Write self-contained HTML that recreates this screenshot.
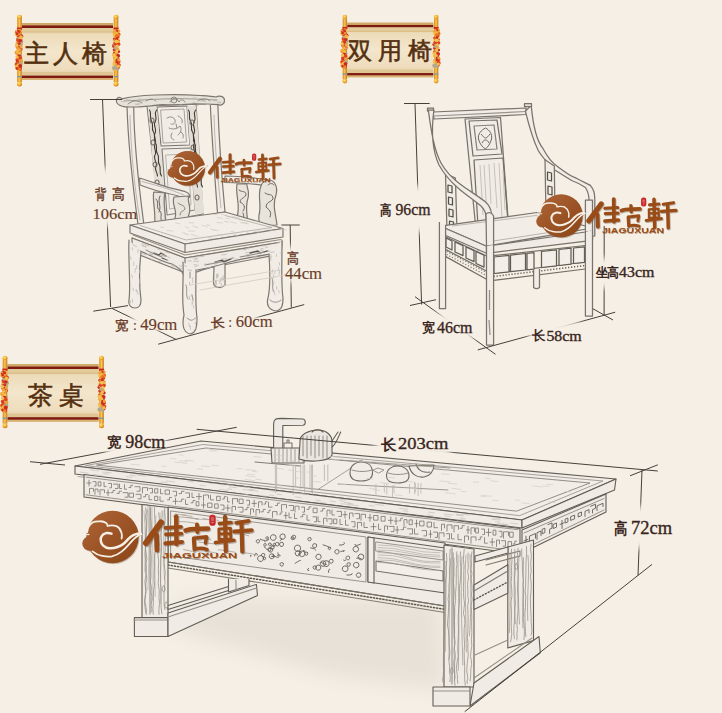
<!DOCTYPE html>
<html><head><meta charset="utf-8">
<style>
html,body{margin:0;padding:0;width:722px;height:713px;overflow:hidden;background:#f5efe6;}
svg{position:absolute;left:0;top:0;}
.lab{font-family:"Liberation Serif",serif;fill:#6a3c28;}
.lab2{font-family:"Liberation Serif",serif;fill:#3a2620;}
.ban{font-family:"Liberation Serif",serif;font-weight:normal;fill:#55300f;stroke:#55300f;stroke-width:0.6;}
.lg{font-family:"Liberation Sans",sans-serif;font-weight:bold;fill:#9c5226;}
</style></head>
<body>
<svg width="722" height="713" viewBox="0 0 722 713">
<defs>
  <linearGradient id="scroll" x1="0" y1="0" x2="0" y2="1">
    <stop offset="0" stop-color="#dcc08c"/>
    <stop offset="0.2" stop-color="#eddcba"/>
    <stop offset="0.5" stop-color="#f3e6cc"/>
    <stop offset="0.82" stop-color="#eedcbc"/>
    <stop offset="1" stop-color="#d8b880"/>
  </linearGradient>
  <linearGradient id="rod" x1="0" y1="0" x2="1" y2="0">
    <stop offset="0" stop-color="#d98a1c"/>
    <stop offset="0.5" stop-color="#f8c850"/>
    <stop offset="1" stop-color="#c8701a"/>
  </linearGradient>
  <radialGradient id="knob" cx="0.4" cy="0.35" r="0.7">
    <stop offset="0" stop-color="#ffe680"/>
    <stop offset="0.6" stop-color="#f0a820"/>
    <stop offset="1" stop-color="#c87010"/>
  </radialGradient>
  <g id="banner">
    <rect x="5" y="8" width="91" height="57" fill="url(#scroll)"/>
    <rect x="5" y="8" width="91" height="2.6" fill="#cfa868"/>
    <rect x="5" y="10.4" width="91" height="2.6" fill="#7e1a12"/>
    <rect x="5" y="13" width="91" height="4" fill="#e3cc9c"/>
    <rect x="5" y="16.6" width="91" height="0.9" fill="#d6ad6e" opacity="0.8"/>
    <rect x="5" y="57" width="91" height="3.6" fill="#dfc494"/>
    <rect x="5" y="60.6" width="91" height="2.6" fill="#7e1a12"/>
    <rect x="5" y="63.2" width="91" height="1.8" fill="#d9b070"/>
    <circle cx="2.5" cy="2.2" r="2.5" fill="url(#knob)"/>
    <rect x="0.20000000000000018" y="4" width="4.6" height="63" fill="url(#rod)"/>
    <rect x="-0.10000000000000009" y="12.5" width="5.2" height="2" fill="#c8281c"/>
    <rect x="0.20000000000000018" y="61" width="4.6" height="1.3" fill="#7a9aa0"/>
    <circle cx="2.5" cy="69" r="2.5" fill="url(#knob)"/>
    <circle cx="1.7" cy="24.5" r="1.4" fill="#b0a890"/>
    <circle cx="4.2" cy="40.0" r="1.0" fill="#b0a890"/>
    <circle cx="3.3" cy="25.4" r="2.1" fill="#b0a890"/>
    <circle cx="1.6" cy="36.6" r="1.4" fill="#e87a20"/>
    <circle cx="3.7" cy="24.3" r="2.0" fill="#e8a848"/>
    <circle cx="1.0" cy="44.7" r="1.1" fill="#f0a030"/>
    <circle cx="4.3" cy="27.1" r="2.0" fill="#b0a890"/>
    <circle cx="-0.3" cy="38.8" r="1.4" fill="#e8a848"/>
    <circle cx="0.3" cy="30.8" r="1.5" fill="#e87a20"/>
    <circle cx="4.0" cy="50.2" r="1.1" fill="#d83020"/>
    <circle cx="1.0" cy="25.3" r="1.9" fill="#f2c050"/>
    <circle cx="0.2" cy="31.8" r="1.6" fill="#e04020"/>
    <circle cx="1.5" cy="38.4" r="2.0" fill="#f0a030"/>
    <circle cx="-0.7" cy="49.3" r="1.7" fill="#e87a20"/>
    <circle cx="2.8" cy="42.9" r="1.6" fill="#f7b840"/>
    <circle cx="3.4" cy="43.6" r="1.9" fill="#f2c050"/>
    <circle cx="4.2" cy="26.4" r="1.9" fill="#b0a890"/>
    <circle cx="0.3" cy="18.5" r="1.5" fill="#e87a20"/>
    <circle cx="2.3" cy="15.8" r="1.5" fill="#f7b840"/>
    <circle cx="1.3" cy="16.8" r="1.0" fill="#c82a20"/>
    <circle cx="-0.3" cy="37.0" r="1.3" fill="#d83020"/>
    <circle cx="2.9" cy="54.9" r="1.1" fill="#e04020"/>
    <circle cx="3.5" cy="16.3" r="1.4" fill="#f2c050"/>
    <circle cx="4.3" cy="21.2" r="2.0" fill="#c82a20"/>
    <circle cx="3.8" cy="29.4" r="1.9" fill="#e8a848"/>
    <circle cx="1.8" cy="33.4" r="1.7" fill="#e04020"/>
    <circle cx="-0.6" cy="19.1" r="1.9" fill="#f2c050"/>
    <circle cx="0.8" cy="32.2" r="1.3" fill="#f2c050"/>
    <circle cx="3.2" cy="32.5" r="1.3" fill="#c82a20"/>
    <circle cx="2.3" cy="15.5" r="1.6" fill="#f0a030"/>
    <circle cx="1.4" cy="30.1" r="1.1" fill="#c82a20"/>
    <circle cx="1.0" cy="33.7" r="1.4" fill="#f2c050"/>
    <circle cx="4.4" cy="44.5" r="1.1" fill="#f0a030"/>
    <circle cx="3.2" cy="53.5" r="1.5" fill="#c82a20"/>
    <circle cx="3.5" cy="22.1" r="1.8" fill="#f2c050"/>
    <circle cx="2.5" cy="27.0" r="1.8" fill="#f0a030"/>
    <circle cx="0.9" cy="53.9" r="1.1" fill="#e04020"/>
    <circle cx="0.3" cy="23.9" r="1.3" fill="#e87a20"/>
    <circle cx="1.1" cy="42.1" r="1.1" fill="#c82a20"/>
    <circle cx="1.0" cy="53.0" r="1.2" fill="#e87a20"/>
    <circle cx="0.6" cy="18.2" r="1.2" fill="#b0a890"/>
    <circle cx="0.4" cy="25.8" r="1.0" fill="#d83020"/>
    <circle cx="0.2" cy="27.6" r="1.6" fill="#f2c050"/>
    <circle cx="0.2" cy="28.6" r="1.1" fill="#c82a20"/>
    <circle cx="2.3" cy="38.6" r="1.6" fill="#f2c050"/>
    <circle cx="1.2" cy="33.6" r="1.3" fill="#e8a848"/>
    <circle cx="2.4" cy="16.4" r="1.2" fill="#b0a890"/>
    <circle cx="-0.1" cy="52.7" r="2.1" fill="#e8a848"/>
    <circle cx="-0.6" cy="37.4" r="1.8" fill="#f0a030"/>
    <circle cx="0.1" cy="44.8" r="1.7" fill="#e04020"/>
    <circle cx="1.7" cy="53.5" r="2.0" fill="#f7b840"/>
    <circle cx="-0.5" cy="49.3" r="1.1" fill="#d83020"/>
    <circle cx="-0.2" cy="16.8" r="1.8" fill="#d83020"/>
    <circle cx="-0.2" cy="50.9" r="1.6" fill="#f0a030"/>
    <circle cx="3.9" cy="34.2" r="1.6" fill="#d83020"/>
    <circle cx="1.8" cy="41.5" r="1.5" fill="#f7b840"/>
    <circle cx="3.2" cy="28.7" r="1.9" fill="#b0a890"/>
    <circle cx="4.2" cy="47.5" r="1.2" fill="#f7b840"/>
    <circle cx="0.3" cy="36.4" r="1.2" fill="#f2c050"/>
    <circle cx="0.3" cy="51.9" r="1.9" fill="#f0a030"/>
    <circle cx="1.5" cy="34.5" r="1.4" fill="#f2c050"/>
    <circle cx="1.3" cy="24.9" r="1.6" fill="#f0a030"/>
    <circle cx="0.5" cy="33.9" r="1.0" fill="#f0a030"/>
    <circle cx="4.3" cy="46.0" r="1.1" fill="#b0a890"/>
    <circle cx="0.1" cy="54.0" r="1.1" fill="#e04020"/>
    <circle cx="3.7" cy="34.6" r="1.1" fill="#e8a848"/>
    <circle cx="1.4" cy="40.9" r="1.4" fill="#d83020"/>
    <circle cx="2.3" cy="54.5" r="1.1" fill="#f0a030"/>
    <circle cx="2.5" cy="43.6" r="1.1" fill="#e87a20"/>
    <circle cx="2.1" cy="16.7" r="1.7" fill="#e04020"/>
    <circle cx="0.3" cy="30.2" r="1.7" fill="#e8a848"/>
    <circle cx="1.2" cy="17.1" r="1.8" fill="#c82a20"/>
    <circle cx="0.9" cy="31.8" r="1.5" fill="#d83020"/>
    <circle cx="3.1" cy="23.7" r="1.6" fill="#e8a848"/>
    <circle cx="3.8" cy="24.0" r="1.0" fill="#c82a20"/>
    <circle cx="-0.2" cy="30.0" r="1.9" fill="#f2c050"/>
    <circle cx="0.9" cy="19.9" r="2.0" fill="#e04020"/>
    <circle cx="1.0" cy="46.7" r="1.8" fill="#e04020"/>
    <circle cx="1.4" cy="19.1" r="1.0" fill="#e87a20"/>
    <circle cx="2.5" cy="24.4" r="1.6" fill="#f7b840"/>
    <circle cx="2.5" cy="41.4" r="1.9" fill="#c82a20"/>
    <circle cx="3.9" cy="48.7" r="1.9" fill="#b0a890"/>
    <circle cx="-0.5" cy="48.4" r="1.6" fill="#f7b840"/>
    <circle cx="0.5" cy="16.5" r="1.6" fill="#d83020"/>
    <circle cx="0.6" cy="19.3" r="2.0" fill="#f0a030"/>
    <circle cx="-0.0" cy="37.0" r="1.2" fill="#f7b840"/>
    <circle cx="3.6" cy="24.7" r="1.3" fill="#e8a848"/>
    <circle cx="1.4" cy="25.1" r="2.0" fill="#e04020"/>
    <circle cx="4.1" cy="31.7" r="1.6" fill="#e8a848"/>
    <circle cx="-0.5" cy="48.7" r="1.5" fill="#e04020"/>
    <circle cx="3.7" cy="42.4" r="1.4" fill="#e87a20"/>
    <circle cx="1.9" cy="21.5" r="1.5" fill="#e04020"/>
    <circle cx="1.5" cy="53.0" r="1.9" fill="#e87a20"/>
    <circle cx="3.5" cy="25.7" r="1.6" fill="#c82a20"/>
    <circle cx="0.1" cy="52.4" r="1.6" fill="#f2c050"/>
    <circle cx="0.1" cy="41.9" r="1.7" fill="#f2c050"/>
    <circle cx="2.9" cy="50.6" r="1.3" fill="#e8a848"/>
    <circle cx="1.5" cy="23.0" r="1.3" fill="#b0a890"/>
    <circle cx="3.8" cy="46.0" r="2.1" fill="#b0a890"/>
    <circle cx="3.4" cy="43.1" r="1.6" fill="#e04020"/>
    <circle cx="-0.7" cy="16.1" r="1.1" fill="#e8a848"/>
    <circle cx="-0.1" cy="46.3" r="1.1" fill="#d83020"/>
    <circle cx="1.1" cy="50.6" r="1.9" fill="#f7b840"/>
    <circle cx="0.1" cy="53.3" r="1.3" fill="#d83020"/>
    <circle cx="3.8" cy="46.0" r="1.7" fill="#f0a030"/>
    <circle cx="3.2" cy="51.0" r="2.0" fill="#c82a20"/>
    <circle cx="4.0" cy="22.3" r="1.9" fill="#f7b840"/>
    <circle cx="0.2" cy="18.7" r="1.3" fill="#c82a20"/>
    <circle cx="0.7" cy="33.1" r="1.4" fill="#f0a030"/>
    <circle cx="2.2" cy="28.4" r="1.5" fill="#d83020"/>
    <circle cx="99" cy="2.2" r="2.5" fill="url(#knob)"/>
    <rect x="96.7" y="4" width="4.6" height="63" fill="url(#rod)"/>
    <rect x="96.4" y="12.5" width="5.2" height="2" fill="#c8281c"/>
    <rect x="96.7" y="61" width="4.6" height="1.3" fill="#7a9aa0"/>
    <circle cx="99" cy="69" r="2.5" fill="url(#knob)"/>
    <circle cx="100.9" cy="40.8" r="1.5" fill="#e87a20"/>
    <circle cx="97.6" cy="36.8" r="1.3" fill="#e8a848"/>
    <circle cx="101.6" cy="19.5" r="2.0" fill="#f7b840"/>
    <circle cx="100.6" cy="36.1" r="1.7" fill="#c82a20"/>
    <circle cx="98.5" cy="45.3" r="1.7" fill="#f2c050"/>
    <circle cx="101.9" cy="19.3" r="1.4" fill="#e04020"/>
    <circle cx="100.5" cy="36.0" r="1.6" fill="#f0a030"/>
    <circle cx="100.5" cy="43.7" r="1.6" fill="#e87a20"/>
    <circle cx="100.8" cy="40.8" r="1.2" fill="#c82a20"/>
    <circle cx="100.4" cy="50.6" r="1.1" fill="#e04020"/>
    <circle cx="98.7" cy="20.7" r="1.8" fill="#e8a848"/>
    <circle cx="100.4" cy="37.2" r="1.5" fill="#f2c050"/>
    <circle cx="100.7" cy="46.3" r="1.1" fill="#e87a20"/>
    <circle cx="99.8" cy="45.2" r="1.8" fill="#c82a20"/>
    <circle cx="98.4" cy="19.0" r="1.1" fill="#e87a20"/>
    <circle cx="99.6" cy="16.7" r="1.3" fill="#e04020"/>
    <circle cx="98.7" cy="29.2" r="1.4" fill="#e04020"/>
    <circle cx="97.4" cy="47.4" r="1.5" fill="#f7b840"/>
    <circle cx="100.1" cy="21.1" r="1.7" fill="#f7b840"/>
    <circle cx="98.0" cy="22.4" r="1.5" fill="#e8a848"/>
    <circle cx="100.9" cy="47.6" r="1.7" fill="#e87a20"/>
    <circle cx="101.2" cy="49.4" r="1.6" fill="#e87a20"/>
    <circle cx="98.1" cy="37.7" r="1.3" fill="#f2c050"/>
    <circle cx="101.2" cy="16.2" r="2.0" fill="#e8a848"/>
    <circle cx="101.7" cy="27.6" r="1.3" fill="#b0a890"/>
    <circle cx="100.6" cy="54.1" r="1.3" fill="#b0a890"/>
    <circle cx="98.0" cy="16.2" r="1.7" fill="#f7b840"/>
    <circle cx="100.4" cy="45.8" r="1.5" fill="#e04020"/>
    <circle cx="98.0" cy="40.0" r="1.9" fill="#d83020"/>
    <circle cx="99.6" cy="16.5" r="1.7" fill="#b0a890"/>
    <circle cx="98.5" cy="19.5" r="1.7" fill="#e87a20"/>
    <circle cx="101.1" cy="20.4" r="1.7" fill="#f0a030"/>
    <circle cx="100.2" cy="16.0" r="1.6" fill="#b0a890"/>
    <circle cx="101.8" cy="36.6" r="1.4" fill="#c82a20"/>
    <circle cx="97.7" cy="42.8" r="1.9" fill="#f0a030"/>
    <circle cx="100.8" cy="43.6" r="1.4" fill="#d83020"/>
    <circle cx="101.5" cy="52.3" r="1.5" fill="#d83020"/>
    <circle cx="97.6" cy="34.4" r="1.0" fill="#f7b840"/>
    <circle cx="100.7" cy="48.8" r="1.4" fill="#b0a890"/>
    <circle cx="99.8" cy="43.0" r="1.5" fill="#b0a890"/>
    <circle cx="99.4" cy="27.2" r="1.8" fill="#e8a848"/>
    <circle cx="99.4" cy="32.5" r="1.0" fill="#f2c050"/>
    <circle cx="98.9" cy="29.7" r="1.6" fill="#e8a848"/>
    <circle cx="97.0" cy="24.0" r="1.2" fill="#c82a20"/>
    <circle cx="99.4" cy="20.7" r="1.2" fill="#d83020"/>
    <circle cx="100.0" cy="15.9" r="1.6" fill="#f0a030"/>
    <circle cx="100.2" cy="20.6" r="1.5" fill="#e87a20"/>
    <circle cx="97.1" cy="17.4" r="1.5" fill="#e8a848"/>
    <circle cx="100.7" cy="16.3" r="1.3" fill="#f0a030"/>
    <circle cx="97.1" cy="30.9" r="2.1" fill="#d83020"/>
    <circle cx="99.0" cy="24.7" r="1.2" fill="#c82a20"/>
    <circle cx="98.8" cy="39.9" r="1.1" fill="#f0a030"/>
    <circle cx="98.5" cy="47.3" r="2.1" fill="#b0a890"/>
    <circle cx="102.0" cy="46.6" r="1.5" fill="#e04020"/>
    <circle cx="101.2" cy="25.6" r="1.7" fill="#c82a20"/>
    <circle cx="97.3" cy="27.7" r="1.5" fill="#f7b840"/>
    <circle cx="97.0" cy="38.7" r="1.0" fill="#f7b840"/>
    <circle cx="99.6" cy="15.8" r="1.5" fill="#d83020"/>
    <circle cx="101.7" cy="41.2" r="1.2" fill="#b0a890"/>
    <circle cx="99.5" cy="28.6" r="1.4" fill="#f0a030"/>
    <circle cx="100.9" cy="30.3" r="1.7" fill="#e8a848"/>
    <circle cx="98.5" cy="18.5" r="1.9" fill="#f7b840"/>
    <circle cx="99.8" cy="35.3" r="1.6" fill="#e8a848"/>
    <circle cx="100.8" cy="22.0" r="1.8" fill="#e04020"/>
    <circle cx="98.0" cy="29.4" r="1.9" fill="#b0a890"/>
    <circle cx="101.1" cy="24.2" r="1.5" fill="#f2c050"/>
    <circle cx="99.6" cy="47.8" r="1.8" fill="#e8a848"/>
    <circle cx="97.2" cy="53.0" r="1.2" fill="#f0a030"/>
    <circle cx="97.5" cy="47.9" r="1.8" fill="#f7b840"/>
    <circle cx="100.1" cy="27.8" r="1.9" fill="#f0a030"/>
    <circle cx="101.5" cy="50.1" r="1.5" fill="#c82a20"/>
    <circle cx="97.0" cy="54.9" r="1.2" fill="#f7b840"/>
    <circle cx="98.6" cy="28.5" r="1.5" fill="#d83020"/>
    <circle cx="97.3" cy="24.6" r="1.2" fill="#e87a20"/>
    <circle cx="97.1" cy="38.4" r="1.3" fill="#d83020"/>
    <circle cx="99.9" cy="23.8" r="1.5" fill="#c82a20"/>
    <circle cx="99.8" cy="46.5" r="1.2" fill="#e87a20"/>
    <circle cx="97.2" cy="39.9" r="1.9" fill="#f0a030"/>
    <circle cx="97.5" cy="49.4" r="2.0" fill="#f2c050"/>
    <circle cx="99.4" cy="18.4" r="1.2" fill="#f7b840"/>
    <circle cx="101.0" cy="40.7" r="2.0" fill="#c82a20"/>
    <circle cx="100.4" cy="31.1" r="1.9" fill="#f2c050"/>
    <circle cx="100.1" cy="48.4" r="1.9" fill="#d83020"/>
    <circle cx="97.0" cy="19.7" r="1.3" fill="#f7b840"/>
    <circle cx="98.0" cy="28.7" r="1.8" fill="#e04020"/>
    <circle cx="98.9" cy="42.5" r="1.9" fill="#f7b840"/>
    <circle cx="98.1" cy="39.2" r="1.4" fill="#f0a030"/>
    <circle cx="99.2" cy="28.4" r="1.1" fill="#d83020"/>
    <circle cx="100.9" cy="27.9" r="1.2" fill="#d83020"/>
    <circle cx="102.1" cy="50.0" r="1.7" fill="#e04020"/>
    <circle cx="98.9" cy="49.1" r="1.2" fill="#e8a848"/>
    <circle cx="101.0" cy="34.4" r="1.4" fill="#f0a030"/>
    <circle cx="101.9" cy="26.7" r="1.2" fill="#f7b840"/>
    <circle cx="97.8" cy="16.1" r="1.6" fill="#f0a030"/>
    <circle cx="97.2" cy="40.6" r="1.8" fill="#f2c050"/>
    <circle cx="97.2" cy="34.7" r="1.5" fill="#d83020"/>
    <circle cx="98.5" cy="44.9" r="1.1" fill="#f2c050"/>
    <circle cx="99.3" cy="51.3" r="1.2" fill="#b0a890"/>
    <circle cx="100.6" cy="45.5" r="2.1" fill="#c82a20"/>
    <circle cx="99.2" cy="52.7" r="2.0" fill="#b0a890"/>
    <circle cx="99.8" cy="36.0" r="1.4" fill="#f2c050"/>
    <circle cx="99.4" cy="26.4" r="2.0" fill="#f2c050"/>
    <circle cx="101.8" cy="44.9" r="1.6" fill="#f0a030"/>
    <circle cx="99.8" cy="20.3" r="1.6" fill="#e87a20"/>
    <circle cx="97.0" cy="53.0" r="2.1" fill="#b0a890"/>
    <circle cx="102.0" cy="29.2" r="1.4" fill="#e04020"/>
    <circle cx="98.0" cy="16.4" r="1.0" fill="#e8a848"/>
    <circle cx="101.3" cy="51.2" r="1.7" fill="#f7b840"/>
    <circle cx="98.4" cy="33.0" r="1.7" fill="#b0a890"/>
    <circle cx="98.4" cy="31.7" r="1.0" fill="#e8a848"/>
  </g>
  <linearGradient id="lgrad" gradientUnits="userSpaceOnUse" x1="90" y1="512" x2="135" y2="562">
    <stop offset="0" stop-color="#ac6234"/>
    <stop offset="1" stop-color="#8c4618"/>
  </linearGradient>
  <g id="chars">
      <path d="M161 522.5 L146 543" stroke-width="6.2"/>
      <path d="M156.5 535 L157 550" stroke-width="4.8"/>
      <path d="M176.2 516.5 L176.5 544" stroke-width="4.5"/>
      <path d="M165.5 527.8 L181 526.8" stroke-width="3.8"/>
      <path d="M166 534.3 L181.5 533.6" stroke-width="3.8"/>
      <path d="M165.5 543.3 L182 542" stroke-width="4.2"/>
      <path d="M185.5 530.5 C190 528,198 529,208 528.5" stroke-width="4.5"/>
      <path d="M197 524.5 L197.5 532" stroke-width="4"/>
      <path d="M193.8 538.5 L194.5 549.5" stroke-width="4"/>
      <path d="M194 538.3 L206.5 536.8 L205.5 543" stroke-width="3.6"/>
      <path d="M195 549 C199 548,203 548,207 549.5" stroke-width="3.6"/>
      <path d="M219.5 523.6 L231 522.5" stroke-width="3.6"/>
      <path d="M225 516.8 L225.8 551.2" stroke-width="4.2"/>
      <path d="M218.8 529 L230.5 528.2 L230.8 538.8 L219 539.5 Z M219 534 L230.6 533.5" stroke-width="2.8"/>
      <path d="M215.5 542.5 L234 540.2" stroke-width="3.6"/>
      <path d="M236.3 522.8 L248.6 521" stroke-width="3.8"/>
      <path d="M234.2 531.6 L251.7 530.2" stroke-width="4"/>
      <path d="M241.5 523.5 L242.3 551.5" stroke-width="4.2"/>
  </g>
  <g id="logo">
    <g transform="translate(-78,-505)">
    <g fill="#6a5a50" opacity="0.35" transform="translate(0.8,1)">
      <circle cx="112.5" cy="537" r="26.2"/>
      <circle cx="89.5" cy="543.5" r="7.2"/>
    </g>
    <g fill="url(#lgrad)">
      <circle cx="112.5" cy="537" r="26.2"/>
      <circle cx="89.5" cy="543.5" r="7.2"/>
      <path d="M118 551 C126 544,133 535,143.6 532.8 C137 538,130 546,122 553 Z"/>
    </g>
    <g fill="none" stroke="#f5efe6" stroke-linecap="round">
      <path d="M87.2 532.2 C87.4 529,89.5 524.5,92.5 522.5 C94.5 521.5,97 521.2,99.3 521.3 C102 521,104.5 521.8,106.1 522.9 C107 523.8,107.4 524.8,107.6 525.9 C110 525.4,114 525.3,116.8 526.3 C119 527.5,121 530.5,121.6 533.1 C122 535,122 536.5,121.6 538.5" stroke-width="1.8"/>
      <path d="M111.5 533.6 C109.5 533,107.8 532.8,106.1 533.1 C104 533.6,102.5 534.6,101.8 536 C100.6 537.6,100.5 539.4,100.8 540.9 C101.2 543,102 544.6,103.2 545.7 C105 547.4,107 548.1,109 548.2 C112 548.5,114.5 548,116.8 547.2 C119.5 546.3,121.8 545.3,123.6 543.8 C125.5 542.2,127 540.5,128.4 538.9 C130 537.2,131.5 536,133.3 535.1 C135.5 534,138 533.4,140.5 533.2" stroke-width="2.5"/>
      <path d="M92.5 551.4 C95.5 553.8,99 555.5,102.2 555.9 C105.5 556.5,109 556.8,111.9 556.4 C115.5 555.6,118.8 553.8,121.6 551.6 C124.5 549.3,127.2 546.3,129.4 543.8 C131.5 541.4,133.8 538.8,136.2 537 C138.5 535.2,140 534.6,141.5 534.2" stroke-width="1.8"/>
      <path d="M84 533.5 C86 534.5,87.5 534.8,89 534.4" stroke-width="1.2"/>
    </g>
    <g fill="none" stroke="#5e4a3c" stroke-linecap="round" stroke-linejoin="round" opacity="0.4" transform="translate(1,1.2)"><use href="#chars"/></g>
    <g fill="none" stroke="#9a4c18" stroke-linecap="round" stroke-linejoin="round"><use href="#chars"/></g>
    <rect x="209.3" y="514.8" width="6.4" height="10.9" rx="2.8" fill="#c82a2c"/>
    <path d="M211 518 h3 M211 520 h3 M211.5 522.5 h2" stroke="#f4d0c8" stroke-width="0.6"/>
    <text x="162" y="558.2" font-family="Liberation Sans, sans-serif" font-weight="bold" font-size="7.8" fill="#6e3a1a" opacity="0.45" textLength="75.3" lengthAdjust="spacingAndGlyphs" transform="translate(0.6,0.8)">JIAGUXUAN</text>
    <text x="162" y="558.2" font-family="Liberation Sans, sans-serif" font-weight="bold" font-size="7.8" fill="#9a4c18" textLength="75.3" lengthAdjust="spacingAndGlyphs">JIAGUXUAN</text>
    </g>
  </g>
</defs>


<!-- banners -->
<use href="#banner" transform="translate(17,15)"/>
<use href="#banner" transform="translate(342.5,15) scale(0.946,0.958)"/>
<use href="#banner" transform="translate(2.5,356) scale(1,1.01)"/>
<text x="24" y="62" class="ban" font-size="25" textLength="83" lengthAdjust="spacing">主人椅</text>
<text x="348" y="59" class="ban" font-size="24" textLength="84" lengthAdjust="spacing">双用椅</text>
<text x="28" y="403.5" class="ban" font-size="25" textLength="56" lengthAdjust="spacing">茶桌</text>

<g id="furn">
<g id="table" fill="none" stroke="#625d54" stroke-width="1.1" stroke-linejoin="round" stroke-linecap="round">
<defs><filter id="sblur" x="-30%" y="-30%" width="160%" height="160%"><feGaussianBlur stdDeviation="10"/></filter></defs>
<path d="M175 600 L440 600 L445 690 L330 675 L180 632 Z" fill="#dcd6cc" stroke="none" filter="url(#sblur)" opacity="0.55"/>
<path d="M75 466 L201 441 L616 479 L522 520 Z" fill="#f2eee7"/>
<path d="M86 465.5 L203 444.5 L603 481 L520 515.5 Z" stroke="#9d978e" stroke-width="0.9"/>
<path d="M97 465 L206 448 L590 483 L517 511 Z" stroke="#888279" stroke-width="0.9"/>
<path d="M358 463.5 L318 489.5" stroke="#9d978e" stroke-width="0.9"/>
<path d="M75 466 L75 474 L522 528 L522 520 Z" fill="#f0ece5"/>
<path d="M522 520 L522 528 L614.5 490 L616 479 Z" fill="#f0ece5"/>
<path d="M78 476.5 L520 530" stroke="#a39d93" stroke-width="0.9"/>
<path d="M84 474.5 L520 528.5 L520 554.0 L84 497.0 Z" fill="#efebe4"/>
<path d="M86 477.2 L518 529.7 M86 494.8 L518 551.2" stroke="#8e887e" stroke-width="0.9"/>
<path d="M87.0 483.0 h4 M89.0 480.1 v5.8 M93.0 481.6 h3 v4.4 h-1.8 M98.5 481.9 h2.4 v4.0 h-2.4 z M104.0 482.2 v4.4 h2.1 M108.5 483.4 h3 v4.4 h-1.8 M113.5 484.1 h4.5 v4.4 h-2.7 M119.5 484.1 v4.4 h2.1 M124.5 484.7 v4.5 h2.1 M129.0 487.5 h1.8 v-2.2 h1.8 M135.0 486.7 h5 v4.5 h-3.0 M142.5 492.9 v-5.3 h5.0 v3.0 M149.0 488.4 h3.5 v4.5 h-2.1 M155.0 488.8 h2.8 v4.2 h-2.8 z M160.5 489.1 v4.6 h2.4 M165.5 490.0 h4.0 v4.2 h-4.0 z M173.0 491.3 h3.5 v4.6 h-2.1 M179.0 493.6 h2.5 v-2.3 h2.5 M185.5 492.9 h4 v4.6 h-2.4 M192.0 492.9 v4.6 h2.1 M196.5 496.6 h5 M199.0 493.4 v6.2 M203.5 500.5 v-5.5 h5.0 v3.1 M210.5 495.2 v4.7 h3.1 M217.0 496.3 h3.2 v4.3 h-3.2 z M222.5 499.0 h1.8 v-2.4 h1.8 M227.5 497.2 v4.7 h2.1 M232.5 504.2 v-5.6 h5.0 v3.2 M239.5 499.1 h3.6 v4.4 h-3.6 z M246.5 500.3 h3 v4.8 h-1.8 M252.0 503.4 h4.5 M254.2 500.2 v6.4 M258.5 507.4 v-5.6 h3.5 v3.2 M264.0 504.1 h1.5 v-2.4 h1.5 M268.5 502.2 v4.9 h3.5 M275.5 505.5 h2.0 v-2.4 h2.0 M281.5 510.3 v-5.7 h5.0 v3.3 M289.0 505.5 h4.5 v4.9 h-2.7 M295.0 512.0 v-5.8 h4.0 v3.3 M301.5 507.1 h3 v5.0 h-1.8 M307.0 509.4 h2.0 v-2.5 h2.0 M313.5 508.1 h3.6 v4.6 h-3.6 z M320.5 511.1 h2.2 v-2.5 h2.2 M327.0 516.1 v-5.9 h3.0 v3.3 M332.0 510.0 v5.0 h2.4 M337.0 511.4 h4.5 v5.0 h-2.7 M343.0 514.7 h4 M345.0 511.3 v6.8 M349.5 518.9 v-5.9 h3.5 v3.4 M355.0 513.6 h4.5 v5.1 h-2.7 M361.0 520.3 v-6.0 h4.5 v3.4 M368.0 517.8 h4 M370.0 514.4 v6.8 M374.0 515.5 h4.0 v4.7 h-4.0 z M381.5 516.4 h3.6 v4.7 h-3.6 z M388.5 520.3 h4.5 M390.8 516.9 v6.9 M394.5 521.1 h3 M396.0 517.6 v6.9 M399.0 520.8 h1.8 v-2.6 h1.8 M404.0 525.7 v-6.1 h3.0 v3.5 M409.5 519.9 h2.8 v4.8 h-2.8 z M415.0 523.6 h3 M416.5 520.1 v7.0 M420.0 521.1 h4.0 v4.8 h-4.0 z M427.5 522.1 h4.0 v4.9 h-4.0 z M434.0 522.4 v5.3 h3.5 M441.5 530.4 v-6.2 h3.0 v3.6 M447.0 531.1 v-6.2 h5.0 v3.6 M454.0 532.0 v-6.3 h4.5 v3.6 M460.0 528.3 h2.2 v-2.7 h2.2 M466.5 530.0 h3 M468.0 526.4 v7.2 M471.0 534.1 v-6.3 h3.5 v3.6 M476.0 528.0 h2.4 v5.0 h-2.4 z M481.5 529.1 h3 v5.4 h-1.8 M486.0 532.4 h5 M488.5 528.8 v7.3 M493.5 530.1 h2.4 v5.0 h-2.4 z M499.0 531.3 h3 v5.5 h-1.8 M503.5 538.2 v-6.4 h5.0 v3.7 M510.0 532.1 h3.2 v5.1 h-3.2 z M89.5 493.5 v-5.1 h4.0 v2.9 M95.0 494.2 v-5.1 h3.0 v2.9 M100.0 494.9 v-5.1 h4.5 v2.9 M106.5 492.8 h3 M108.0 489.8 v5.9 M111.0 492.6 h2.0 v-2.2 h2.0 M117.0 493.4 h2.2 v-2.2 h2.2 M123.0 492.7 h5 v4.5 h-3.0 M129.5 493.1 h4.0 v4.1 h-4.0 z M136.0 494.3 h5 v4.5 h-3.0 M143.5 496.8 h2.0 v-2.3 h2.0 M149.0 495.2 v4.5 h2.8 M155.0 496.3 h2.8 v4.2 h-2.8 z M160.0 496.6 v4.6 h3.5 M167.5 499.8 h2.0 v-2.3 h2.0 M173.0 501.3 h5 M175.5 498.2 v6.1 M179.5 501.4 h2.2 v-2.3 h2.2 M185.5 499.8 v4.6 h2.4 M191.0 502.8 h2.0 v-2.3 h2.0 M196.5 501.6 h2.4 v4.3 h-2.4 z M201.5 505.0 h4 M203.5 501.8 v6.2 M208.0 503.1 h4.0 v4.3 h-4.0 z M215.0 503.9 h3.2 v4.3 h-3.2 z M220.5 505.0 h3.5 v4.7 h-2.1 M225.5 508.0 h4.5 M227.8 504.9 v6.3 M232.0 512.1 v-5.6 h3.5 v3.2 M238.0 507.3 h5 v4.8 h-3.0 M245.0 509.7 h2.0 v-2.4 h2.0 M250.5 514.5 v-5.6 h3.0 v3.2 M256.0 515.2 v-5.6 h3.5 v3.2 M261.0 511.8 h2.2 v-2.4 h2.2 M267.5 512.6 h1.5 v-2.4 h1.5 M272.5 517.3 v-5.7 h4.5 v3.2 M279.5 514.2 h1.5 v-2.4 h1.5 M284.0 515.6 h3.5 M285.8 512.3 v6.5 M289.0 512.9 v4.9 h2.4 M294.5 513.6 v4.9 h2.4 M300.5 516.8 h2.2 v-2.5 h2.2 M307.0 515.2 v5.0 h2.4 M313.0 516.8 h3.5 v5.0 h-2.1 M318.0 516.6 v5.0 h2.1 M323.5 524.0 v-5.8 h3.5 v3.3 M328.5 518.8 h3.5 v5.0 h-2.1 M334.0 519.0 h2.8 v4.6 h-2.8 z M340.0 519.4 v5.1 h2.4 M345.5 520.1 v5.1 h2.8 M351.5 521.7 h3.5 v5.1 h-2.1 M357.5 528.4 v-6.0 h4.0 v3.4 M364.0 522.4 v5.1 h3.5 M371.0 526.7 h5 M373.5 523.3 v6.9 M378.5 524.2 v5.2 h2.4 M384.5 531.9 v-6.0 h3.0 v3.5 M389.0 526.4 h5 v5.2 h-3.0 M395.5 529.9 h3.5 M397.2 526.4 v6.9 M401.0 529.7 h2.5 v-2.6 h2.5 M407.5 528.8 h5 v5.2 h-3.0 M414.5 528.8 v5.3 h3.5 M422.0 530.6 h4.5 v5.3 h-2.7 M429.0 534.2 h3 M430.5 530.6 v7.1 M433.5 532.1 h4 v5.3 h-2.4 M439.0 539.0 v-6.2 h5.0 v3.6 M446.5 533.7 h3 v5.4 h-1.8 M451.5 533.5 v5.4 h2.8 M458.0 534.3 v5.4 h3.5 M464.5 542.3 v-6.3 h4.0 v3.6 M471.0 543.2 v-6.3 h5.0 v3.6 M478.5 539.6 h1.8 v-2.7 h1.8 M484.5 537.7 v5.5 h2.8 M490.0 542.0 h4.5 M492.2 538.4 v7.3 M496.5 546.5 v-6.4 h3.0 v3.7 M501.5 540.7 h4 v5.5 h-2.4 M508.0 548.0 v-6.4 h3.5 v3.7 M513.0 544.0 h1.8 v-2.8 h1.8" stroke="#79736b" stroke-width="0.8"/>
<path d="M522 530 L606 494 L606 512 L522 553 Z" fill="#efebe4"/>
<path d="M524 533 L604 498.5 M524 549 L604 510" stroke="#8e887e" stroke-width="0.9"/>
<path d="M524.0 541.0 l4 -1.7 M526.0 536.2 v9.6 M529.5 543.1 v-7.0 l6 -2.6 v4.7 M537.0 539.5 v-6.8 l4 -1.7 v4.5 M542.5 529.2 l2.4 -1.0 v4.4 l-2.4 1.0 z M548.0 524.6 l4 -1.7 v5.3 l-2.4 1.0 v4.3 M553.5 524.3 l3.0 -1.3 v4.1 l-3.0 1.3 z M560.0 524.5 l4 -1.7 M562.0 520.5 v8.0 M565.5 519.0 l2.4 -1.0 v3.9 l-2.4 1.0 z M571.0 516.6 l3.6 -1.5 v3.7 l-3.6 1.5 z M578.5 513.3 l3.0 -1.3 v3.6 l-3.0 1.3 z M585.0 516.4 v-5.1 l4 -1.7 v3.4 M590.5 506.3 l5 -2.1 v4.1 l-3.0 1.3 v3.3 M597.0 510.6 v-4.7 l6 -2.6 v3.2" stroke="#625d54" stroke-width="0.9"/>
<path d="M168 507 L445 543 L445 606 L168 562 Z" fill="#f0ece5"/>
<path d="M168 562 L445 606" stroke="#767068"/>
<path d="M168 568 L445 612.5" stroke="#827d74"/>
<path d="M168 565 L445 609.3" stroke="#5b564d" stroke-dasharray="1.2 2" stroke-width="1.5"/>
<path d="M171 511 L366 537 L366 582 L171 556 Z" stroke="#8e887e" stroke-width="0.9"/>
<path d="M175 514.0 l11.3 1.2 M182 514.9 l10.0 1.4 M189 517.3 l8.4 2.0 M196 519.0 l13.8 0.7 M203 518.3 l8.2 1.7 M210 519.3 l8.8 1.1 M217 522.1 l12.9 0.9 M224 520.7 l13.5 1.4 M231 523.3 l8.5 0.6 M238 524.2 l10.6 0.6" stroke="#aba59c" stroke-width="0.8"/>
<path d="M358.2 563.0 a2.8 2.8 0 1 0 0.1 0.1 M265.3 557.4 a1.3 1.3 0 1 0 0.1 0.1 M349.2 556.5 a1.9 1.9 0 1 0 0.1 0.1 M315.9 566.2 a1.7 1.7 0 1 0 0.1 0.1 M270.5 548.2 a1.7 1.7 0 1 0 0.1 0.1 M268.0 537.0 a1.3 1.3 0 1 0 0.1 0.1 M278.4 542.8 a1.8 1.8 0 1 0 0.1 0.1 M338.5 550.1 a2.2 2.2 0 1 0 0.1 0.1 M275.3 543.5 a1.2 1.2 0 1 0 0.1 0.1 M284.5 534.6 a2.7 2.7 0 1 0 0.1 0.1 M316.1 544.1 a2.1 2.1 0 1 0 0.1 0.1 M357.8 547.1 a2.8 2.8 0 1 0 0.1 0.1 M304.1 551.6 a2.9 2.9 0 1 0 0.1 0.1 M299.6 551.4 a2.6 2.6 0 1 0 0.1 0.1 M363.0 554.8 a2.9 2.9 0 1 0 0.1 0.1 M332.6 559.7 a2.0 2.0 0 1 0 0.1 0.1 M293.6 537.1 a1.5 1.5 0 1 0 0.1 0.1 M264.3 553.8 a1.7 1.7 0 1 0 0.1 0.1 M275.3 535.4 a2.9 2.9 0 1 0 0.1 0.1 M349.9 563.1 a1.8 1.8 0 1 0 0.1 0.1 M283.0 542.8 a2.1 2.1 0 1 0 0.1 0.1 M273.6 546.2 a1.7 1.7 0 1 0 0.1 0.1 M360.2 573.4 a2.3 2.3 0 1 0 0.1 0.1 M283.0 563.0 a1.8 1.8 0 1 0 0.1 0.1 M295.1 535.7 a2.0 2.0 0 1 0 0.1 0.1 M307.4 552.4 a1.6 1.6 0 1 0 0.1 0.1 M310.7 537.9 a1.7 1.7 0 1 0 0.1 0.1 M265.9 543.8 a1.3 1.3 0 1 0 0.1 0.1 M259.1 540.0 a1.7 1.7 0 1 0 0.1 0.1 M320.4 554.8 a2.7 2.7 0 1 0 0.1 0.1 M328.3 561.4 a3.0 3.0 0 1 0 0.1 0.1 M299.8 545.9 a3.2 3.2 0 1 0 0.1 0.1 M273.5 554.4 a2.5 2.5 0 1 0 0.1 0.1 M262.7 556.3 a3.0 3.0 0 1 0 0.1 0.1 M324.9 561.5 a2.8 2.8 0 1 0 0.1 0.1 M272.1 548.3 a2.2 2.2 0 1 0 0.1 0.1 M347.2 566.6 a2.9 2.9 0 1 0 0.1 0.1 M320.1 565.7 a2.6 2.6 0 1 0 0.1 0.1 M330.4 547.3 a1.3 1.3 0 1 0 0.1 0.1 M270.7 543.3 a1.4 1.4 0 1 0 0.1 0.1 M343.6 560.2 q1.0 1.0 2.2 -0.1 M250.4 555.5 q2.0 0.0 0.4 1.0 M257.4 554.5 q-2.0 -3.4 -2.8 1.4 M273.0 556.6 q3.8 -0.0 -1.4 -0.1 M326.6 564.6 q0.9 1.1 -5.1 -2.1 M278.4 557.5 q-1.6 0.5 -5.9 -2.6 M280.1 555.4 q1.5 1.4 -2.5 0.1 M302.0 551.8 q-3.1 3.1 -3.6 2.9 M354.9 544.4 q-0.3 2.6 5.6 -0.3 M280.1 540.6 q3.6 -2.3 1.0 -2.1 M308.7 568.2 q-2.9 2.6 0.1 2.3 M328.8 547.8 q3.2 -0.1 -5.7 -3.0 M305.1 551.7 q-1.6 -2.9 -1.9 -1.1 M344.1 542.5 q2.0 2.7 -4.6 2.6 M329.9 569.4 q-1.7 -1.0 -1.3 3.0 M316.0 550.2 q-0.6 -1.8 -5.4 -2.4 M343.5 551.5 q3.5 -2.0 -2.8 0.1 M271.3 544.7 q3.6 3.1 3.7 0.8 M352.3 573.6 q0.4 1.8 -5.4 1.4 M300.5 560.7 q1.2 -1.7 -5.4 2.6 M264.3 546.9 q-1.3 -1.6 2.9 2.9 M279.1 554.8 q-1.6 0.5 -1.3 -2.0 M268.1 539.0 q3.2 -0.0 -3.4 2.4 M361.6 559.1 q-2.9 -2.5 -4.9 -0.9 M260.2 538.9 q-1.9 0.6 4.6 1.5" stroke="#625d54" stroke-width="0.9"/>
<path d="M368 537 L445 548 L445 593 L368 582 Z" fill="#efebe4"/>
<path d="M368 537 L374 538 L374 583 L368 582 Z" fill="#f1ede6"/>
<path d="M376 542 L443 551 L443 560 L376 551 Z" stroke="#908b81" stroke-width="0.9"/>
<path d="M376 561 L443 571 L443 581 L376 571 Z" fill="#f3efe8" stroke="#767068"/>
<path d="M378 545.0 q15 -0.2 30 3.8 t32 4 M378 547.5 q15 0.0 30 3.8 t32 4 M378 550.0 q15 -0.3 30 3.1 t32 4 M378 552.5 q15 -0.4 30 4.9 t32 4 M378 555.0 q15 -0.7 30 4.0 t32 4 M378 557.5 q15 0.3 30 4.7 t32 4 M378 560.0 q15 -0.6 30 3.5 t32 4 M378 562.5 q15 -0.5 30 3.8 t32 4" stroke="#b2aca3" stroke-width="0.7"/>
<path d="M142 504.5 L168 507.5 L168 617.6 L142 617.6 Z" fill="#f0ece5"/>
<path d="M150 506 L150 614" stroke="#958f85"/>
<path d="M144.0 510.5 c1.8 20 1.4 40 0.7 60.9 M148.0 506.3 c0.8 20 1.6 40 -0.1 83.5 M152.0 506.0 c-0.4 20 1.7 40 0.7 94.2 M156.0 515.7 c-1.0 20 -1.6 40 -0.7 80.9 M160.0 512.8 c1.8 20 0.9 40 0.3 90.6 M164.0 510.6 c0.2 20 -1.8 40 0.6 69.3" stroke="#b2aca3" stroke-width="0.7"/>
<path d="M134.4 617.6 L168 617.6 L168 636.5 L134.4 636.5 Z" fill="#f0ece5"/>
<path d="M134 620 L169 620" stroke="#958f85"/>
<path d="M168 613 L256.4 584.4 L257.5 595.5 L168 636.5 Z" fill="#f0ece5"/>
<path d="M168 617 L256.5 588" stroke="#958f85"/>
<path d="M168 605.5 L228.5 586.6 L228.5 590.5 L168 609.5 Z" fill="#f1ede6"/>
<path d="M228.5 579 L228.5 592 L249 585.5 L249 579" fill="#f0ece5"/>
<path d="M236 580 L236 590" stroke="#958f85"/>
<path d="M444 545 L474 549 L474 687 L444 687 Z" fill="#f0ece5"/>
<path d="M452 548 L452 684" stroke="#958f85"/>
<path d="M446.0 561.2 c0.6 25 -0.8 50 -0.7 90.1 M450.0 558.4 c0.8 25 -1.6 50 -0.9 101.0 M454.0 557.8 c-0.4 25 -1.1 50 0.2 80.4 M458.0 555.0 c-0.2 25 1.8 50 0.3 115.4 M462.0 556.8 c-1.1 25 -1.0 50 0.9 108.2 M466.0 555.1 c-1.9 25 -0.0 50 0.3 96.8 M470.0 554.6 c0.7 25 1.7 50 -0.5 81.4" stroke="#a39d93" stroke-width="0.8"/>
<path d="M507.8 547 L533.5 540 L533.5 640.6 L507.8 648 Z" fill="#f0ece5"/>
<path d="M510.0 552.7 c-0.3 20 0.7 40 -0.6 79.9 M514.5 555.9 c0.0 20 -1.2 40 0.9 67.8 M519.0 556.6 c-1.1 20 -1.1 40 0.5 67.4 M523.5 557.6 c-0.0 20 -1.3 40 -0.6 70.4 M528.0 555.3 c1.8 20 -1.4 40 -0.2 65.3" stroke="#a39d93" stroke-width="0.8"/>
<path d="M474 683 L539 636.5 L540.3 652.8 L470 706 Z" fill="#f0ece5"/>
<path d="M474 678 L532 638" stroke="#958f85"/>
<path d="M433 687 L470 687 L470 706 L433 706 Z" fill="#f0ece5"/>
<path d="M433 691 L470 691" stroke="#958f85"/>
<path d="M474 585 L507.8 564.7 L507.8 593.2 L474 609.4 Z" fill="#f0ece5"/>
<path d="M474 591 L507.8 571" stroke="#827d74"/>
<path d="M474 600 L507.8 582" stroke="#5b564d" stroke-dasharray="1.2 2" stroke-width="1.4"/>
<path d="M475 556 L508 547 L508 553 L475 562 Z" fill="#f1ede6"/>
<path d="M486 560 L520 551 L520 556 L486 565" stroke="#827d74"/>
<path d="M475 655 L507.8 640" stroke="#958f85"/>
<path d="M145.7 507.9 Q146.9 512.1 145.5 516.3 Q147.0 523.9 145.9 531.4 Q144.9 539.1 145.6 546.9 Q144.2 554.6 146.0 562.3 Q145.6 569.0 145.8 575.7 Q144.3 581.0 145.3 586.3 Q146.6 591.4 145.0 596.5 Q144.1 601.0 145.8 605.5 Q146.7 610.1 146.3 614.7 M147.2 509.8 Q146.8 517.5 146.8 525.2 Q146.5 532.8 146.0 540.4 Q144.6 547.6 146.4 554.9 Q147.7 559.0 145.7 563.1 Q146.9 568.2 146.1 573.2 Q147.5 578.6 145.8 583.9 Q146.4 590.4 145.4 596.9 Q143.9 602.1 145.0 607.4 Q145.4 610.1 145.7 612.8 M150.6 508.4 Q150.3 516.2 151.3 524.1 Q151.3 529.1 151.2 534.1 Q152.1 541.8 150.7 549.5 Q151.5 556.4 151.2 563.4 Q150.7 569.8 151.0 576.3 Q149.7 581.7 151.4 587.2 Q150.7 591.9 151.8 596.7 Q152.0 601.0 151.1 605.2 Q152.2 608.7 151.8 612.1 M154.5 507.5 Q154.4 513.5 154.9 519.5 Q155.2 524.4 154.7 529.4 Q155.8 536.1 155.1 542.8 Q156.2 549.4 154.5 556.1 Q154.1 561.2 154.6 566.4 Q153.9 573.4 154.1 580.3 Q155.3 585.3 153.6 590.3 Q153.3 596.6 153.3 602.9 Q152.5 608.7 153.3 614.4 M158.7 512.9 Q159.8 518.8 159.2 524.7 Q158.6 532.4 158.5 540.1 Q159.9 544.5 158.0 549.0 Q157.6 555.3 158.7 561.7 Q158.0 569.1 158.6 576.6 Q157.4 583.7 159.3 590.8 Q158.5 597.2 159.5 603.6 Q158.6 609.0 159.0 614.4 M162.1 510.9 Q162.6 515.0 161.8 519.0 Q160.9 523.7 161.5 528.5 Q160.2 535.7 161.6 542.8 Q161.7 547.2 161.4 551.7 Q160.4 558.2 160.7 564.8 Q160.1 571.6 160.6 578.3 Q160.0 583.6 161.3 588.8 Q161.1 595.1 161.1 601.3 Q160.7 607.6 161.9 613.8 M163.6 585.8 a1.5 3 0 1 0 0.1 0 M164.7 507.0 Q164.4 512.7 165.2 518.4 Q164.2 526.0 165.1 533.5 Q165.6 537.5 165.2 541.6 Q165.6 549.2 164.6 556.9 Q163.5 562.4 164.6 567.9 Q165.9 573.0 164.6 578.1 Q165.5 582.6 164.6 587.0 Q163.5 594.9 164.1 602.7 Q164.1 606.2 164.9 609.6 M166.2 602.0 a1.5 3 0 1 0 0.1 0" stroke="#979288" stroke-width="0.8"/>
<path d="M446.5 553.4 Q447.4 560.7 446.0 568.0 Q447.0 572.9 445.8 577.8 Q445.0 585.1 445.3 592.4 Q445.0 598.0 445.4 603.6 Q446.0 608.1 444.9 612.6 Q445.1 620.2 444.2 627.8 Q445.2 634.8 443.5 641.9 Q443.6 646.3 443.6 650.8 Q443.4 657.3 443.3 663.8 Q443.8 670.1 443.2 676.5 Q441.8 679.4 443.1 682.3 M450.2 549.4 Q449.3 556.5 450.2 563.7 Q449.0 569.5 449.5 575.4 Q449.4 581.2 448.9 586.9 Q449.3 592.9 448.1 599.0 Q449.0 603.3 448.5 607.6 Q448.5 613.7 447.8 619.7 Q446.7 625.2 448.5 630.7 Q449.2 638.2 449.3 645.6 Q450.8 652.9 448.8 660.1 Q450.1 666.1 449.6 672.0 Q450.9 676.7 450.0 681.4 Q450.8 681.4 449.8 681.4 M451.7 667.8 a1.5 3 0 1 0 0.1 0 M453.3 552.9 Q452.4 558.9 454.0 564.9 Q453.4 570.0 454.0 575.0 Q453.0 579.2 453.5 583.3 Q454.7 591.1 453.8 598.8 Q452.6 603.5 454.2 608.2 Q453.8 614.3 454.4 620.4 Q454.7 627.9 454.5 635.4 Q456.0 642.9 453.9 650.4 Q454.8 657.0 453.7 663.5 Q454.0 668.5 454.5 673.6 Q454.3 679.0 454.9 684.5 Q453.6 684.8 455.3 685.1 M456.8 551.8 Q456.2 558.2 457.0 564.5 Q456.0 568.5 456.3 572.5 Q456.3 579.0 456.2 585.5 Q455.3 593.0 455.6 600.6 Q454.1 607.2 454.8 613.9 Q454.4 619.3 454.2 624.7 Q454.4 629.6 454.3 634.5 Q454.2 639.3 454.5 644.1 Q453.7 648.7 455.2 653.2 Q455.6 657.8 454.6 662.4 Q454.3 669.9 455.0 677.4 Q455.5 678.7 454.2 680.1 M460.5 551.9 Q459.7 559.6 460.8 567.4 Q460.9 575.0 460.1 582.6 Q458.8 588.2 459.7 593.8 Q459.8 601.0 458.9 608.1 Q458.0 615.8 458.3 623.6 Q458.7 630.0 458.3 636.5 Q457.8 643.7 457.8 651.0 Q459.0 656.2 457.1 661.4 Q455.6 668.5 457.4 675.6 Q457.3 679.5 457.8 683.3 M464.2 549.4 Q463.7 554.3 463.4 559.2 Q464.5 566.2 463.7 573.2 Q463.9 580.1 463.4 586.9 Q463.4 592.6 463.8 598.4 Q465.2 603.5 464.0 608.5 Q462.6 613.4 464.7 618.3 Q465.4 623.3 464.2 628.3 Q463.7 636.1 464.6 643.9 Q463.8 651.4 464.3 658.9 Q464.9 666.6 464.6 674.2 Q464.5 679.8 465.3 685.4 M468.1 553.1 Q467.6 560.0 468.3 566.9 Q467.0 571.8 468.5 576.6 Q467.0 584.3 467.9 591.9 Q467.4 596.4 468.6 600.8 Q467.2 605.3 467.8 609.9 Q468.4 616.7 468.0 623.5 Q468.3 630.4 467.3 637.3 Q468.3 642.8 467.8 648.3 Q468.9 655.8 467.2 663.4 Q466.0 671.0 467.9 678.7 Q466.5 681.0 467.2 683.4 M471.9 551.8 Q470.7 558.3 471.5 564.9 Q470.6 569.2 471.9 573.6 Q470.5 578.9 471.8 584.2 Q472.5 589.2 471.5 594.2 Q472.9 599.7 471.2 605.2 Q471.5 611.2 471.8 617.2 Q471.6 621.3 471.6 625.5 Q472.2 632.6 471.4 639.7 Q472.5 645.8 470.9 652.0 Q469.9 656.3 471.4 660.7 Q472.2 664.7 470.9 668.7 Q470.9 674.9 470.2 681.0" stroke="#979288" stroke-width="0.8"/>
<path d="M511.5 549.2 Q510.8 554.5 512.0 559.9 Q511.2 567.7 511.7 575.5 Q510.5 582.3 511.7 589.1 Q512.6 595.6 511.0 602.2 Q511.4 609.0 511.5 615.8 Q511.2 621.2 511.3 626.6 Q512.5 634.2 510.7 641.7 Q510.0 641.9 510.2 642.0 M514.8 549.5 Q514.8 554.4 514.7 559.3 Q515.1 566.3 515.1 573.4 Q514.1 578.8 514.8 584.1 Q515.5 591.5 515.1 598.9 Q515.9 603.6 515.0 608.2 Q514.9 614.6 514.4 620.9 Q513.5 628.4 514.0 636.0 Q515.0 637.3 514.3 638.7 M516.3 563.4 a1.5 3 0 1 0 0.1 0 M518.1 548.2 Q517.1 552.9 517.8 557.5 Q516.6 565.4 518.2 573.3 Q517.8 581.2 517.5 589.0 Q518.2 597.0 518.0 604.9 Q518.4 610.6 517.5 616.4 Q517.2 620.8 517.0 625.2 Q517.9 629.4 516.9 633.5 Q517.3 636.7 516.9 639.9 M521.7 548.9 Q521.5 555.9 522.4 562.9 Q522.1 569.1 522.8 575.4 Q523.9 580.4 523.1 585.3 Q524.2 592.4 523.4 599.5 Q523.3 606.2 523.7 612.9 Q522.4 618.2 523.9 623.4 Q524.5 629.1 524.3 634.8 Q524.1 637.2 523.9 639.6 M526.5 546.5 Q527.0 554.2 526.0 561.9 Q526.0 569.0 525.8 576.1 Q525.9 584.0 525.1 591.9 Q526.4 596.6 525.5 601.2 Q525.7 607.3 524.9 613.4 Q524.9 619.5 525.2 625.7 Q525.3 631.1 525.8 636.6 M531.0 544.1 Q529.8 549.6 531.4 555.2 Q530.1 563.1 531.2 571.1 Q529.7 576.2 531.0 581.3 Q531.6 586.9 530.9 592.6 Q530.1 598.0 530.5 603.4 Q530.6 610.4 531.2 617.4 Q530.9 622.2 531.7 627.1 Q532.5 631.2 531.1 635.2" stroke="#979288" stroke-width="0.8"/>
<path d="M220.2 538.8 q6 0.1 11.8 2.9 M198.8 542.1 q6 0.6 16.5 1.9 M194.4 538.2 q6 -0.7 16.7 1.7 M236.7 533.8 q6 -0.2 12.0 1.9 M186.1 517.5 q6 0.4 12.2 1.5 M194.9 535.8 q6 -0.1 15.1 2.3 M199.5 552.6 q6 0.7 10.5 2.7 M240.8 552.9 q6 -0.7 16.7 2.3 M173.1 516.1 q6 0.9 15.2 1.5 M179.7 521.7 q6 -0.5 16.2 1.7 M183.6 549.6 q6 0.6 11.3 2.8 M218.2 549.8 q6 0.3 17.2 2.6 M235.7 531.1 q6 0.4 14.2 2.5 M205.3 551.7 q6 0.1 12.1 1.5" stroke="#a39d93" stroke-width="0.8"/>
<path d="M273.6 448 L273.6 424 C273.6 419,276 418.4,282 418.4 L303 419 C306 419.5,306 425,303 425.2 L282.8 425.5 L282.8 448" fill="#eeeae3"/>
<path d="M271 448 L305 448 L304 463 L272 463 Z" fill="#efebe4"/>
<path d="M275 449 v13 M279 449 v13 M283 449 v13 M287 449 v13 M291 449 v13 M295 449 v13 M299 449 v13 M303 449 v13" stroke="#8e887e" stroke-width="0.8"/>
<path d="M300 442 C299 434,310 430,318 430 C327 430,333 436,332 444 L332 455 C330 461,310 463,299 459 Z" fill="#ebe7e0"/>
<path d="M303 436 v19.8 M307 436 v22.0 M311 436 v19.4 M315 436 v21.8 M319 436 v19.9 M323 436 v21.9 M327 436 v22.0" stroke="#878177" stroke-width="0.9"/>
<path d="M332 447 C336 444,338 438,340.7 432 M332 441 C334 438,336 435,338 432 M312 432 c3 -3 8 -3 11 0" />
<path d="M284 448 l0 -5 l8 0 l0 5 M287 443 l0 -3 l2 0 l0 3" stroke="#79736b"/>
<path d="M304.7 465 v27.9 M275.4 465 v27.6 M300.7 465 v23.4 M311.6 465 v27.6 M295.6 465 v21.3 M327.8 465 v16.1 M310.0 465 v24.5 M276.6 465 v24.1 M312.5 465 v29.0 M293.2 465 v29.7 M303.1 465 v22.3 M324.4 465 v15.5" stroke="#b6b1a7" stroke-width="0.8"/>
<path d="M255 462 L300 466" stroke="#827d74"/>
<path d="M350 473 C350 465,356 462,361 462 C367 462,372.5 465,372.5 473 C372.5 479,367 481,361 481 C355 481,350 479,350 473 Z" fill="#f1ede6" stroke="#726c62"/>
<path d="M358 462 c1 -2 5 -2 6 0 M352 470 c6 2 14 2 20 0" stroke="#888279" stroke-width="0.9"/>
<path d="M386.5 476 C386.5 469,392 466,397.5 466 C403 466,409 469,409 476 C409 481,404 483,397.5 483 C391 483,386.5 481,386.5 476 Z" fill="#f1ede6" stroke="#726c62"/>
<path d="M394 466 c1 -2 5 -2 6 0 M388 473 c6 2 14 2 20 0" stroke="#888279" stroke-width="0.9"/>
<path d="M409 466 C411 474,417 478,424 477 C430 476,434 471,434 465 Z M416 464 C418 471,424 473,430 472" fill="#f1ede6" stroke="#726c62"/>
<path d="M373 470 l5 -2 l6 2 l-5 3 z M340 460 L450 468 M338 484 L448 490" stroke="#958f85" stroke-width="0.9"/>
<path d="M409.5 484.5 v8.7 M420.9 483.5 v9.8 M394.0 485.1 v7.7 M386.8 483.7 v10.4 M418.1 483.2 v12.6 M384.3 484.0 v8.2 M392.5 485.9 v11.2 M415.4 483.3 v8.5 M375.9 484.3 v11.1 M414.7 482.2 v11.8" stroke="#bcb6ac" stroke-width="0.8"/>
</g>
<g id="chair1" fill="none" stroke="#7d776f" stroke-width="1.2" stroke-linejoin="round" stroke-linecap="round">
  <!-- back posts -->
  <path d="M127 106 C128 140,132 180,138.2 226 L143.8 224 C138 180,134 140,133.7 106 Z" fill="#f1ede6"/>
  <path d="M130 115 C131 150,134 185,140 220" stroke="#afaaa0" stroke-width="0.8"/>
  <path d="M210.3 104 C212 140,215 180,217.5 213 L225 212 C222 180,219 140,217.8 104 Z" fill="#f1ede6"/>
  <path d="M214 115 C215 150,218 180,221 208" stroke="#afaaa0" stroke-width="0.8"/>
  <!-- splat -->
  <path d="M147 106 L196 104 L203 214 L160 222 Z" fill="#efebe4" stroke="#88827a"/>
  <path d="M157 107 L187 106 L190 145 L161 146 Z" stroke="#79736b" fill="#f1ede6"/>
  <path d="M161 110 L184 109 L186.5 142 L163.5 143 Z" stroke="#a09a90" stroke-width="0.9"/>
  <path d="M167 118 c3 -2 7 -1 8 2 c1 3 -2 5 -4 4 M178 116 c3 1 5 4 4 7 M169 128 c4 2 8 1 11 -2 c2 3 1 7 -2 9 M172 133 c-2 3 -1 6 2 7 M176 124 l1 4 M181 132 c2 1 3 4 2 6" stroke="#878179" stroke-width="0.9"/>
  <path d="M162 149 L190.5 148 L195 210 L167 215 Z" stroke="#858077" fill="#f1ede6"/>
  <path d="M166 155 L188 154 L191 205 L170 209 Z" stroke="#aaa49a" stroke-width="0.8"/>
  <!-- carved strips (dense) -->
  <path d="M148 108 L157 107.5 L167 222 L158 223 Z M187 106.5 L196 106 L204 213 L195 214 Z" fill="#e3dfd7" stroke="none"/>
  <g stroke="#413b33" stroke-width="1.1">
    <path d="M149.5 110 c3 4 -1 7 2 11 c3 4 -1 7 2 11 c3 4 -1 7 2 11 c3 4 -1 7 2 11 c3 4 -1 7 2 11 c2 4 -1 7 2 11"/>
    <path d="M156.5 110 c-3 4 1 7 -1 11 c-3 4 1 7 0 11 c-3 4 1 7 0 11 c-3 4 1 7 0 11 c-3 4 1 7 1 11 c-3 4 1 7 1 11"/>
    <path d="M152 118 a2 2.5 0 1 0 0.1 0 M153 140 a2 2.5 0 1 0 0.1 0 M155 162 a2 2.5 0 1 0 0.1 0 M157 180 a2 2.5 0 1 0 0.1 0" stroke="#706b62"/>
    <path d="M188.5 110 c3 4 -1 7 2 11 c3 4 -1 7 2 11 c3 4 -1 7 2 11 c3 4 -1 7 2 11 c3 4 -1 7 2 11 c3 4 -1 7 2 11 c2 4 -1 7 2 11"/>
    <path d="M195.5 110 c-3 4 1 7 -1 11 c-3 4 1 7 0 11 c-3 4 1 7 0 11 c-3 4 1 7 0 11 c-3 4 1 7 1 11 c-3 4 1 7 1 11 c-3 4 1 7 1 11"/>
    <path d="M192 120 a2 2.5 0 1 0 0.1 0 M193 145 a2 2.5 0 1 0 0.1 0 M195 170 a2 2.5 0 1 0 0.1 0 M197 195 a2 2.5 0 1 0 0.1 0" stroke="#706b62"/>
  </g>
  <!-- crest rail -->
  <path d="M117 103 C115 98,119 96,122 98.8 C130 96.5,142 95.5,155 95 C170 94.5,185 94.5,200 95.5 C207 96,212 96.3,216 97 C219 95.5,224 96,224.5 100 C225 104,221 106,218.7 104.7 C210 104,200 103.8,195 103.8 C185 104.5,172 105,162 104.7 C150 106,140 107,137 107 C128 107,120 107.5,117 103 Z" fill="#e6e2da"/>
  <path d="M124 101 C140 100,160 99,178 98.5 C195 99,208 99.5,217 100" stroke="#999389" stroke-width="0.9"/>
  <path d="M128 104 c5 -4 10 -4 14 -1 M146 101 c4 -3 8 -2 10 0 M170 102 c2 -4 8 -4 9 0 c1 -3 5 -3 6 0 M198 101 c4 -3 9 -3 12 0" stroke="#827d74" stroke-width="0.9"/>
  <circle cx="174" cy="100" r="3" stroke="#827d74" stroke-width="0.9"/>
  <!-- left arm -->
  <path d="M139.6 178 C150 181,160 185,169 187.7 C176 189.5,182 190.5,186 192 C190 193.5,191 197,188 198 L186 199 C182 197,176 195,168 193.5 C158 191.5,148 188,140 185 Z" fill="#f1ede6"/>
  <path d="M142 181.5 C155 185,170 189,184 195" stroke="#aca79d" stroke-width="0.8"/>
  <path d="M174 197 C171 205,178 210,175 218 C172 226,177 232,179 236 L191 236 C190 228,186 222,189 214 C192 206,186 200,189 196 Z" fill="#e8e4dc"/>
  <path d="M178 203 c3 3 6 1 7 6 c-2 3 -5 2 -5 6 M177 221 c3 -3 8 0 9 6" stroke="#7d776f" stroke-width="0.9"/>
  <path d="M153.7 192 C152 203,157 214,154 229 L165 228 C167 214,162 203,165 193 Z" fill="#e8e4dc"/>
  <path d="M156 199 c4 4 -1 8 4 12 c3 4 -1 7 2 10 M160 196 c-3 6 2 10 -1 16" stroke="#6b655d" stroke-width="1"/>
  <!-- right arm -->
  <path d="M225 176 C240 176.5,254 177.5,268 180 L266 185.5 C252 183.5,240 183,225 182.5 Z" fill="#f1ede6"/>
  <path d="M237 184 C235 195,241 205,237 217 C236 222,239 226,238 229 L248 229 C249 220,244 210,248 198 C250 191,246 186,247 184 Z" fill="#e8e4dc"/>
  <path d="M239 190 c3 3 7 0 7 5 c-2 4 -5 2 -6 7 c4 2 6 5 3 9 M243 213 c2 4 -1 8 2 12" stroke="#6b655d" stroke-width="1"/>
  <path d="M261 186 C257 195,262 205,259 215 C258 220,260 224,260 226 L277 225 C276 215,272 205,276 195 C278 187,275 181,270 180 C265 180,262 182,261 186 Z" fill="#e8e4dc"/>
  <path d="M265 193 c4 3 8 0 8 6 c-3 4 -6 2 -7 8 c3 3 6 4 4 10 M268 185 c2 -2 5 -2 6 0" stroke="#6b655d" stroke-width="1"/>
  <!-- seat top -->
  <path d="M130 225 L185 244 L283 228.5 L225 212 Z" fill="#f2eee7"/>
  <path d="M140 225.5 L186 240 L272 227.5 L225 215.5" stroke="#afaaa0" stroke-width="0.8"/>
  <!-- seat edge block -->
  <path d="M130 225 L130 233 L185 252.5 L283 237 L283 228.5 L185 244 Z" fill="#f0ece5"/>
  <path d="M185 244 L185 252.5"/>
  <!-- waist -->
  <path d="M133 235 L185 255 L281 239.5" stroke="#938e85"/>
  <path d="M132 238 L185 258 L282 242" stroke="#858077"/>
  <!-- apron -->
  <path d="M132 238 L132 252 L183 272 L197 270 L281 254 L282 242 L185 258 Z" fill="#efebe4"/>
  <path d="M185 258 L185 272" />
  <path d="M140 251 C150 255,162 262,172 264 C178 267,182 270,184 276 M197 272 C205 268,215 267,230 262 C245 258,258 256,270 254"/>
  <path d="M146 250 c6 3 10 5 16 7 M205 265 c10 -2 18 -3 28 -7 M240 257 c10 -2 18 -3 28 -6" stroke="#7d776f" stroke-width="0.9"/>
  <path d="M154 253 l5 2 l2 -2 l5 3 M162 258 l5 2 M215 262 l7 -2 l2 2 l7 -3 M250 253 l8 -2 l2 2 l7 -2" stroke="#5b564d" stroke-width="1.3"/>
  <!-- legs -->
  <path d="M129 240 C128 260,131 285,129 300 C128 305,131 308,135 308 C139 308,141 305,141 300 C139 285,139 270,141 252" fill="#f1ede6"/>
  <path d="M183 262 C184 280,181 298,184 315 C182 324,183 332,190 334 C196 333,197 327,197 318 C195 303,196 288,196 270" fill="#f1ede6"/>
  <path d="M186 285 c2 5 -1 10 2 14 M187 318 c3 3 6 3 8 0 M190 272 l0 6 M192 295 l1 5" stroke="#908b82" stroke-width="0.9"/>
  <path d="M269 254 C270 270,271 285,268 298 C266 305,269 310,276 311 C282 310,283 305,283 298 C281 285,282 270,282 240" fill="#f1ede6"/>
  <path d="M272 278 c2 5 -1 10 2 14 M270 300 c3 3 8 3 11 0" stroke="#908b82" stroke-width="0.9"/>
  <path d="M214 267 C214 275,213 280,213.7 284 C215 288,222 289,225 285 C225 278,225 272,225 264" fill="#f1ede6"/>
  <!-- floor reflection faint -->
  <path d="M190 285 L280 270 M200 290 L285 275" stroke="#d1cbc1" stroke-width="0.8"/>
</g>
<g id="chair2" fill="none" stroke="#79736b" stroke-width="1.25" stroke-linejoin="round">
  <!-- top rail -->
  <path d="M433 112 L526 108 L526 114.5 L434 119 Z" fill="#f1ede6"/>
  <path d="M434 116 L526 111.5" stroke="#979389"/>
  <!-- left arm curve -->
  
  <path d="M427.5 108 l6 0 l0 3 l-6 0 z" fill="#e6e2da"/>
  <!-- right arm curve -->
  <path d="M531.2 105.4 C533 125,536 140,542.8 148.2 C548 158,552 163,557.8 166.7 C566 173,570 176,576.3 178.2 C584 182,589 185,590.2 185.2 C594 190,594.8 193,594.8 200 L594.8 236 L589 237 L589 200 C589 194,587 190,585.5 187.5 C580 184,576 182,571.7 180.5 C564 176,558 172,553.2 169 C546 161,542 157,538.2 150.5 C533 140,530 130,525.4 111.2 Z" fill="#f1ede6"/>
  <path d="M524.5 103.5 l7 0 l0 3 l-7 0 z" fill="#e6e2da"/>
  <!-- splat -->
  <path d="M465 119 L500.5 117.5 L510 245 L478 250 Z" fill="#f1ede6"/>
  <path d="M469 121 L497 120 L502 154 L473 156 Z M474 160 L503 158 L508 222 L478 226 Z" stroke="#736f65"/>
  <path d="M474 126 L494 125 L497 149 L477 150 Z" stroke="#858177"/>
  <path d="M485.5 128 c4 2 7 6 6 11 c-1 5 -4 8 -6 10 c-3 -2 -6 -5 -7 -10 c-1 -5 3 -9 7 -11 z M481 134 c2 2 3 4 4.5 4 c1.5 0 3 -2 4.5 -4 M482 143 c1 -2 2 -3 3.5 -3 c1.5 0 2.5 1 3.5 3" stroke="#5b574d" stroke-width="0.9"/>
  <path d="M480 165 l3 50 M484 165 l3 52 M489 164 l2 40 M494 163 l3 45 M499 163 l3 55 M503 170 l2 40" stroke="#bcb6ac" stroke-width="0.8"/>
  <path d="M488 226 c3 -4 10 -4 12 0 l0 6 l-12 1 z" stroke="#5b574d"/>
  <!-- left window support -->
  <path d="M445.5 173.6 L455.4 178 L457 231 L447 232 Z" fill="#f1ede6"/>
  <path d="M448 185 l4 1 l0 7 l-4 -1 z M448.5 197 l4 1 l0 7 l-4 -1 z M449 209 l4 1 l0 7 l-4 -1 z M449.5 221 l4 1 l0 6 l-4 0 z" stroke="#545043"/>
  <path d="M428.3 110.2 C431 130,434 150,441 163 C446 172,452 178,460 184 C468 190,478 196,485 201.6 C489 205,491 209,491.5 214 L493 240 L487 242 L486 217 C486 212,484 209,481 206 C474 200,466 195,458 188 C450 181,444 174,439 165 C433 152,431 132,433.9 110.2 Z" fill="#f1ede6"/>
  <!-- right window support -->
  <path d="M545 159.7 L554.3 166 L555 215 L546 216 Z" fill="#f1ede6"/>
  <path d="M547.5 172 l4 1 l0 8 l-4 -1 z M548 186 l4 1 l0 8 l-4 -1 z M548.5 200 l4 1 l0 8 l-4 -1 z" stroke="#545043"/>
  <!-- seat surface -->
  <path d="M440.6 226.2 L537 212.5 L592.5 228 L486.5 246.2 Z" fill="#f2eee7"/>
  <path d="M452 226 L536 215.5 L575 228.5 L490 241.5" stroke="#aca79d" stroke-width="0.8"/>
  <path d="M486 214 C488 212,492 212,493.6 216 L493.6 246 L486.5 246.2 Z" fill="#f1ede6"/>
  <path d="M585.4 200 L592.5 200 L592.5 231 L585.4 232 Z" fill="#f1ede6"/>
  <!-- seat rails -->
  <path d="M440.6 226.2 L486.5 246.2 L592.5 231 L592.5 240.3 L486.5 253.3 L440.6 233.3 Z" fill="#f0ece5"/>
  <path d="M486.5 246.2 L486.5 253.3"/>
  <!-- left spindle zone -->
  <path d="M444 236 L486.5 256 M444 248.6 L486.5 271 M444 255.6 L486.5 279.2" stroke="#746f66"/>
  <path d="M446 238 l6 3 l0 9 l-6 -3 z M455 242 l8 3.6 l0 10 l-8 -3.6 z M466 247 l8 3.6 l0 11 l-8 -3.6 z M476 251.5 l8 3.6 l0 12 l-8 -3.6 z" stroke="#625d54" fill="#f3efe8"/>
  <path d="M444 250 L486.5 272.5 M444 253 L486.5 275.5" stroke="#858077" stroke-dasharray="1.2 1.8" stroke-width="1.3"/>
  <!-- front spindle zone -->
  <path d="M493.6 255.6 L585.4 245.5 M493.6 273.3 L585.4 262 M493.6 280.3 L585.4 269" stroke="#746f66"/>
  <path d="M494 257 l15 -1.7 l0 16.5 l-15 1.7 z M510.5 255.2 l15 -1.7 l0 16.5 l-15 1.7 z M527 253.4 l7 -0.8 l0 16.5 l-7 0.8 z M541.5 251.5 l15 -1.7 l0 16 l-15 1.7 z M559 249.5 l12 -1.4 l0 16 l-12 1.4 z M573.5 248 l11 -1.2 l0 15.5 l-11 1.2 z" stroke="#625d54" fill="#f3efe8"/>
  <path d="M493.6 276.5 L585.4 265.5" stroke="#625d54" stroke-dasharray="1.2 1.8" stroke-width="1.5"/>
  <!-- legs -->
  <path d="M439.4 222 L439.4 308.7 L445.6 308.7 L445.6 225" fill="#f1ede6"/>
  <path d="M486.5 246 L486.5 345 L493.6 345 L493.6 245" fill="#f1ede6"/>
  <path d="M489.5 290 l0 20 M489 320 l1 15" stroke="#959087"/>
  <path d="M585.4 232 L585.4 316 L592.5 316 L592.5 230" fill="#f1ede6"/>
  <path d="M533.6 270 L533.6 287.4 C535.5 289,537.5 289,539.5 287.4 L539.5 269" fill="#f1ede6"/>
</g>
<g id="tex" fill="none" stroke-linecap="round">
<path d="M229.4 258.5 l4.7 -0.8 M234.8 259.4 l2.5 -0.4 M194.7 266.7 l3.8 -1.5 M235.8 261.1 l3.5 -0.2 M259.6 253.2 l4.4 -0.9 M280.1 253.1 l2.2 -0.2 M260.7 248.9 l2.2 -0.5 M262.5 245.9 l3.6 -0.6 M204.3 264.2 l2.4 -0.2 M260.2 250.9 l2.7 -1.0 M194.7 259.2 l2.7 -0.3 M221.7 255.0 l4.8 -0.8 M208.9 263.3 l2.8 0.0 M243.3 249.7 l2.5 -0.1 M245.0 249.2 l4.5 -1.4 M252.4 259.3 l2.2 -0.9 M187.7 270.0 l4.1 0.3 M188.0 261.0 l3.4 -0.1 M193.2 258.0 l4.2 0.2 M219.8 262.6 l4.7 0.2 M246.0 252.6 l3.7 -0.4 M193.7 261.1 l5.0 0.2 M255.9 252.8 l4.2 -0.5 M194.0 264.8 l2.1 -0.2 M253.0 256.4 l3.8 0.2 M214.9 262.4 l2.5 -0.8 M217.4 262.0 l2.6 -0.5 M270.5 252.7 l3.6 -0.9 M199.1 256.4 l4.5 0.1 M246.1 256.3 l2.9 0.1 M254.0 258.8 l2.9 -0.0 M265.6 247.8 l2.3 -0.9 M246.4 254.7 l3.9 -0.3 M252.9 257.2 l3.8 -0.1 M222.2 258.8 l4.6 -0.0 M268.2 251.5 l2.2 -0.4 M262.8 245.7 l3.0 -0.0 M277.1 242.8 l2.6 -0.4 M213.9 264.1 l3.9 -0.5 M206.0 268.1 l4.9 -0.7" stroke="#b8b3ab" stroke-width="0.7"/>
<path d="M160.4 255.1 l3.7 0.8 M161.8 254.7 l4.0 0.9 M160.6 252.1 l4.3 2.2 M146.3 254.1 l2.3 0.8 M157.3 248.8 l2.4 1.0 M142.3 245.7 l3.9 1.2 M150.8 259.1 l2.1 0.9 M145.3 244.7 l3.4 1.2 M151.9 252.1 l3.5 0.9 M165.8 256.0 l4.2 1.7 M171.3 265.6 l4.5 1.4 M132.9 244.8 l3.6 1.8 M158.6 261.3 l2.5 0.6 M161.2 255.5 l3.6 0.9 M141.8 244.9 l4.0 2.2 M149.3 253.9 l3.4 1.1 M141.6 253.4 l4.0 1.3 M142.3 243.6 l3.5 0.7 M179.3 265.3 l3.7 1.8 M165.4 251.8 l3.6 1.3 M184.1 265.4 l2.5 1.3 M171.5 264.5 l4.2 1.4 M179.5 267.9 l3.7 1.7 M150.1 253.9 l1.9 0.6 M165.9 259.2 l2.4 1.3" stroke="#b8b3ab" stroke-width="0.7"/>
<path d="M136.7 265.3 l-0.0 3.3 M135.3 268.4 l-0.2 4.0 M137.0 290.7 l1.0 3.8 M136.2 289.3 l0.2 2.5 M130.5 256.7 l0.6 2.7 M132.5 299.3 l0.1 3.1 M139.7 279.1 l-0.2 4.0 M138.1 249.6 l-0.3 3.2 M130.5 300.8 l0.1 2.3 M131.7 274.7 l0.8 3.1 M139.5 270.2 l-0.1 3.1 M133.7 262.1 l-0.0 3.3 M132.8 288.0 l0.7 2.5 M132.5 247.6 l-0.2 2.3" stroke="#bcb7af" stroke-width="0.7"/>
<path d="M188.7 323.3 l0.9 3.4 M195.9 326.4 l-0.4 2.1 M189.2 296.0 l0.6 3.9 M190.3 325.9 l0.1 3.4 M195.7 318.1 l0.7 3.1 M191.5 294.6 l0.6 2.3 M190.3 273.1 l-0.2 2.9 M189.5 282.0 l0.2 3.2 M193.3 299.5 l-0.8 3.9 M192.8 280.5 l-0.4 2.2 M193.4 305.6 l0.4 2.7 M192.2 301.7 l-0.1 3.2 M193.0 277.3 l-0.5 2.4 M195.0 322.1 l0.5 2.0" stroke="#bcb7af" stroke-width="0.7"/>
<path d="M273.3 274.7 l0.7 3.2 M276.5 254.2 l-0.1 2.2 M276.6 286.6 l0.1 2.7 M272.5 269.9 l-0.5 3.5 M270.9 256.9 l-0.1 3.6 M279.2 262.4 l0.4 2.8 M279.7 271.4 l-0.7 3.2 M273.9 281.8 l-0.7 3.4 M275.1 271.4 l-0.4 2.2 M270.9 254.8 l0.1 3.1 M278.2 267.3 l0.8 3.5 M272.6 288.4 l0.3 2.1 M278.7 290.3 l0.5 2.5 M274.3 292.1 l0.6 2.7" stroke="#bcb7af" stroke-width="0.7"/>
<path d="M221.1 277.7 l-0.8 3.8 M223.1 275.4 l0.4 3.6 M217.2 274.8 l-0.7 3.8 M216.5 274.1 l0.2 2.7 M218.0 274.6 l-0.0 2.4 M222.0 277.2 l-0.0 3.7 M215.8 280.9 l0.5 3.7 M214.2 276.8 l-0.0 3.1 M223.7 279.1 l0.9 3.5 M219.5 281.4 l0.5 2.1 M221.4 283.3 l-0.1 2.2 M215.4 280.7 l0.5 3.3 M216.2 281.0 l-0.3 3.0 M217.9 273.7 l-0.3 3.9" stroke="#bcb7af" stroke-width="0.7"/>
<path d="M170.4 101.8 l3.4 0.3 M213.3 100.7 l3.6 0.2 M207.1 104.3 l3.6 0.6 M217.7 102.8 l3.0 0.3 M201.8 100.8 l2.8 -0.4 M195.6 105.9 l2.7 -0.4 M140.8 100.8 l2.5 0.5 M126.0 99.8 l2.2 0.1 M199.1 98.6 l2.1 -0.0 M179.6 105.2 l2.0 -0.3 M138.8 99.0 l2.5 0.2 M180.7 99.0 l2.4 -0.2 M137.6 103.8 l2.6 0.1 M203.3 101.3 l2.5 0.4 M213.3 100.1 l3.0 0.6 M169.2 99.0 l2.1 0.4 M201.7 100.5 l3.1 0.0 M148.0 105.9 l3.3 -0.3 M121.1 101.3 l2.7 0.3 M192.8 102.5 l2.3 -0.3 M152.8 99.3 l3.7 0.0 M185.0 105.9 l2.5 0.0 M135.4 103.9 l2.0 0.3 M206.3 104.4 l2.2 -0.2 M193.1 97.9 l3.0 -0.0 M217.5 102.3 l3.7 -0.3 M200.5 100.8 l3.8 -0.6 M204.3 98.9 l3.1 0.0 M136.1 104.5 l2.6 -0.2 M127.8 99.8 l2.9 0.3" stroke="#bcb7af" stroke-width="0.7"/>
<path d="M185.0 234.0 l3.4 0.6 M238.6 219.6 l5.2 1.0 M224.3 221.3 l4.4 0.9 M175.6 222.8 l4.4 1.1 M241.9 222.5 l6.6 1.5 M240.7 222.6 l6.3 0.5 M233.7 234.7 l3.7 0.6 M258.0 231.0 l3.3 0.4 M270.9 225.7 l4.9 1.2 M189.0 222.6 l4.6 0.3 M191.3 234.4 l6.6 2.0 M231.0 231.5 l3.0 0.5 M182.4 232.8 l3.4 0.6 M207.9 237.2 l6.1 1.5 M268.2 229.5 l4.3 0.9 M281.0 228.5 l5.6 1.7 M225.9 218.3 l3.3 0.4 M218.2 234.3 l4.1 1.4 M185.3 226.8 l3.3 1.2 M213.1 229.9 l5.2 0.7 M255.1 231.2 l3.3 1.0 M166.9 230.4 l6.3 0.7 M213.8 214.4 l3.1 0.3 M230.7 221.8 l5.5 1.5 M188.4 230.9 l6.2 0.3 M160.5 227.0 l3.5 0.6 M217.1 217.6 l5.0 0.7 M216.9 222.6 l5.6 0.3 M232.7 216.6 l6.7 1.6 M201.9 225.2 l5.3 1.4 M192.6 225.9 l5.0 1.7 M210.5 228.8 l4.5 1.5 M242.0 231.1 l5.9 0.8 M220.8 214.2 l3.4 0.6 M206.9 224.7 l3.1 0.8" stroke="#cfcac2" stroke-width="0.7"/>
<path d="M358.1 461.0 l5.8 0.6 M207.9 448.9 l9.4 1.3 M212.1 465.2 l5.9 0.5 M548.8 501.9 l6.4 0.6 M245.2 479.4 l9.5 1.3 M330.4 458.7 l5.7 0.8 M330.3 456.2 l9.2 1.3 M201.4 465.8 l8.2 0.8 M179.6 460.7 l7.9 1.0 M543.3 485.9 l5.3 0.5 M565.1 491.4 l5.6 0.7 M313.7 481.5 l7.2 0.6 M396.0 464.2 l5.5 0.7 M131.1 464.2 l8.5 0.8 M373.5 489.8 l6.1 0.7 M490.8 480.7 l7.0 0.9 M439.8 481.0 l9.7 0.9 M492.7 500.2 l5.4 0.6 M394.6 494.7 l7.4 1.0 M179.1 454.8 l4.1 0.4 M310.7 475.4 l5.5 0.7 M380.1 482.6 l8.7 0.8 M161.6 466.1 l4.2 0.4 M407.2 481.3 l5.6 0.6 M174.7 462.1 l4.9 0.6 M515.6 499.9 l4.3 0.5 M274.4 459.4 l9.8 0.8 M289.1 465.2 l6.5 0.6 M480.6 496.1 l5.4 0.5 M371.3 461.2 l6.7 0.9 M274.2 467.9 l9.8 1.2 M532.9 485.9 l9.3 1.0 M197.4 468.7 l5.1 0.6 M170.7 458.5 l5.3 0.6 M245.5 475.7 l9.9 1.2 M443.4 469.8 l5.6 0.5 M180.1 462.6 l6.3 0.9 M272.7 454.9 l9.6 1.0 M481.9 495.4 l9.4 0.8 M252.5 471.3 l4.5 0.6 M289.7 460.9 l4.2 0.4 M247.4 474.1 l7.2 0.6 M461.1 491.3 l4.9 0.5 M295.5 471.4 l9.2 0.9 M237.0 468.5 l5.3 0.4 M307.1 471.9 l4.3 0.4 M255.7 479.3 l5.7 0.5 M294.1 477.7 l5.0 0.6 M210.0 450.6 l6.0 0.6 M448.6 483.3 l8.2 0.7 M288.3 469.9 l4.4 0.5 M388.9 477.3 l5.9 0.6 M547.0 484.2 l5.5 0.7 M273.5 484.9 l9.6 1.2 M410.3 488.1 l6.4 0.7 M245.6 469.6 l9.8 0.9 M185.5 460.2 l8.0 0.8 M289.6 461.0 l6.9 0.8 M369.4 488.3 l7.3 1.0 M445.5 492.7 l9.7 1.3 M339.7 484.0 l6.2 0.6 M473.2 481.9 l5.4 0.5 M254.0 456.6 l7.1 0.6 M485.2 478.1 l4.9 0.7 M217.3 480.0 l8.7 0.9 M521.7 502.8 l7.4 0.8 M451.5 488.2 l8.9 1.1 M150.7 470.8 l8.0 0.8 M441.5 473.8 l7.7 0.8 M366.5 478.3 l6.2 0.6" stroke="#d2cdc5" stroke-width="0.7"/>
<path d="M102.5 471.9 l8.4 0.9 M293.1 492.9 l8.0 0.9 M369.0 505.4 l5.3 0.7 M428.6 512.1 l5.9 0.8 M444.2 514.1 l8.9 0.9 M250.9 490.2 l7.2 1.0 M126.6 476.6 l5.7 0.7 M344.3 502.4 l6.5 0.7 M341.1 503.7 l8.6 0.9 M492.6 517.8 l7.9 1.0 M456.2 514.2 l6.7 0.9 M460.5 518.0 l4.6 0.5 M229.4 486.9 l7.1 0.8 M136.8 475.0 l8.6 1.1 M260.0 495.4 l6.5 0.9 M339.9 500.8 l4.5 0.6 M375.2 504.3 l8.8 1.2 M495.6 521.7 l4.1 0.5 M315.8 500.0 l4.5 0.6 M403.2 510.8 l4.7 0.6 M92.6 474.6 l5.5 0.8 M241.9 493.8 l6.3 0.7 M269.4 495.0 l4.2 0.6 M243.6 486.9 l6.4 0.7 M348.0 503.4 l5.5 0.7 M103.3 473.6 l5.2 0.6 M277.0 494.2 l4.6 0.5 M129.8 475.1 l5.5 0.8 M270.1 490.7 l7.3 1.0 M340.2 499.2 l5.9 0.7 M330.0 501.1 l5.6 0.6 M208.9 483.2 l4.6 0.6 M200.0 485.1 l5.3 0.6 M458.2 519.3 l7.0 0.9 M456.3 515.1 l6.6 0.7 M498.0 523.5 l8.2 1.1 M349.6 504.8 l8.6 0.9 M94.0 474.7 l8.3 1.2 M90.6 469.9 l8.1 1.0 M80.3 472.1 l7.9 1.1 M227.6 488.8 l4.0 0.5 M157.3 477.0 l5.2 0.6 M161.2 481.9 l5.5 0.6 M399.6 508.4 l7.9 1.0 M187.6 481.1 l6.0 0.8 M243.1 489.4 l8.5 1.2 M427.4 514.9 l5.6 0.7 M502.6 523.9 l5.7 0.8 M317.7 502.1 l7.8 0.9 M219.5 489.4 l8.4 1.0 M491.8 519.2 l8.4 0.9 M444.8 515.9 l5.2 0.7 M301.7 493.6 l6.7 0.9 M295.5 496.9 l5.4 0.7 M166.5 480.9 l8.1 1.1 M510.6 523.0 l7.4 1.0 M461.8 514.1 l7.9 1.1 M249.2 489.2 l4.1 0.4 M219.0 484.4 l4.9 0.6 M226.6 484.8 l6.6 0.8" stroke="#c5c0b8" stroke-width="0.7"/>
</g>
</g>
<!-- dimension lines -->
<defs>
  <filter id="blur3" x="-50%" y="-50%" width="200%" height="200%"><feGaussianBlur stdDeviation="3"/></filter>
  <mask id="dmask" maskUnits="userSpaceOnUse" x="0" y="0" width="722" height="713">
    <rect x="0" y="0" width="722" height="713" fill="#fff"/>
    <g fill="#000" filter="url(#blur3)">
      <rect x="92" y="168" width="44" height="58"/>
      <rect x="284" y="246" width="38" height="36"/>
      <rect x="132" y="314" width="26" height="22"/>
      <rect x="212" y="312" width="46" height="22"/>
      <rect x="380" y="186" width="50" height="46"/>
      <rect x="592" y="258" width="30" height="30"/>
      <rect x="427" y="314" width="50" height="24"/>
      <rect x="529" y="322" width="52" height="22"/>
      <rect x="106" y="434" width="60" height="22"/>
      <rect x="375" y="434" width="76" height="22"/>
      <rect x="612" y="506" width="62" height="42"/>
    </g>
  </mask>
</defs>
<g stroke="#45403a" stroke-width="1" fill="none" mask="url(#dmask)">
  <path d="M90 99.5 L122 99.5 M102.5 99 L110.6 307 M93.3 311.2 L128 305.6 M112 308.4 L176.4 339.6 M158.2 344.2 L304.2 304.6 M281.4 225 L299.7 225 M290.2 225 L291.3 307.7"/>
  <path d="M404 103.5 L429.7 103.5 M415 103.5 L421.6 304.5 M410 305.5 L436 299.7 M415 296.7 L495.5 354.3 M477.8 349.9 L615.2 312.2 M604.2 226 L604.1 315.5 M593 308.8 L613 320"/>
  <path d="M30 461.7 L65 465 M40 464.3 L236.7 427.3 M196.7 429.3 L657.8 471 M630 475.8 L657.8 464.8 M642 470 L638 575.5 M652 564.4 L464.7 711.7"/>
</g>
<!-- logos -->
<use href="#logo" transform="translate(164.7,147.1) scale(0.665)"/>
<use href="#logo" transform="translate(532.7,189.5) scale(0.825)"/>
<use href="#logo" transform="translate(78,505)"/>
<!-- labels -->
<g class="lab" stroke="#6a3c28">
<text x="94.6" y="198.9" font-size="13.7" font-weight="normal" stroke-width="0.45" textLength="11.4" lengthAdjust="spacingAndGlyphs">背</text>
<text x="111.6" y="198.9" font-size="13.7" font-weight="normal" stroke-width="0.45" textLength="12.7" lengthAdjust="spacingAndGlyphs">高</text>
<text x="92.6" y="218.5" font-size="15.6" textLength="44.8" lengthAdjust="spacingAndGlyphs" stroke-width="0.15">106cm</text>
<text x="287.4" y="262.8" font-size="14.4" font-weight="normal" stroke-width="0.45" textLength="11.9" lengthAdjust="spacingAndGlyphs">高</text>
<text x="285.0" y="279.2" font-size="16.1" textLength="37.1" lengthAdjust="spacingAndGlyphs" stroke-width="0.15">44cm</text>
<text x="114.6" y="329.6" font-size="12.7" font-weight="normal" stroke-width="0.45" textLength="13.4" lengthAdjust="spacingAndGlyphs">宽</text>
<text x="133.0" y="329.8" font-size="14" stroke-width="0.15">:</text>
<text x="140.2" y="330.2" font-size="15.9" textLength="37.1" lengthAdjust="spacingAndGlyphs" stroke-width="0.15">49cm</text>
<text x="210.9" y="326.5" font-size="12.4" font-weight="normal" stroke-width="0.45" textLength="14.0" lengthAdjust="spacingAndGlyphs">长</text>
<text x="228.2" y="327.3" font-size="14" stroke-width="0.15">:</text>
<text x="235.7" y="327.2" font-size="16.2" textLength="36.9" lengthAdjust="spacingAndGlyphs" stroke-width="0.15">60cm</text>
</g>
<g class="lab2" stroke="#3a2620">
<text x="380.4" y="214.9" font-size="13.8" font-weight="bold" stroke-width="0" textLength="11.4" lengthAdjust="spacingAndGlyphs">高</text>
<text x="395.5" y="215.2" font-size="16.7" textLength="34.9" lengthAdjust="spacingAndGlyphs" stroke-width="0.35">96cm</text>
<text x="595.5" y="277.0" font-size="12.9" font-weight="bold" stroke-width="0" textLength="12.4" lengthAdjust="spacingAndGlyphs">坐</text>
<text x="606.5" y="277.0" font-size="12.9" font-weight="bold" stroke-width="0" textLength="11.9" lengthAdjust="spacingAndGlyphs">高</text>
<text x="619.0" y="276.7" font-size="14.5" textLength="35.3" lengthAdjust="spacingAndGlyphs" stroke-width="0.35">43cm</text>
<text x="421.7" y="332.3" font-size="12.7" font-weight="bold" stroke-width="0" textLength="12.9" lengthAdjust="spacingAndGlyphs">宽</text>
<text x="437.1" y="333.1" font-size="16.5" textLength="35.4" lengthAdjust="spacingAndGlyphs" stroke-width="0.35">46cm</text>
<text x="531.8" y="340.4" font-size="12.6" font-weight="bold" stroke-width="0" textLength="13.4" lengthAdjust="spacingAndGlyphs">长</text>
<text x="546.4" y="340.5" font-size="15.3" textLength="35.3" lengthAdjust="spacingAndGlyphs" stroke-width="0.35">58cm</text>
<text x="106.8" y="447.4" font-size="14.1" font-weight="bold" stroke-width="0" textLength="14.4" lengthAdjust="spacingAndGlyphs">宽</text>
<text x="125.3" y="447.8" font-size="18.2" textLength="40.1" lengthAdjust="spacingAndGlyphs" stroke-width="0.35">98cm</text>
<text x="380.9" y="450.0" font-size="15.2" font-weight="bold" stroke-width="0" textLength="15.5" lengthAdjust="spacingAndGlyphs">长</text>
<text x="398.1" y="449.2" font-size="17.7" textLength="50.4" lengthAdjust="spacingAndGlyphs" stroke-width="0.35">203cm</text>
<text x="613.6" y="533.8" font-size="15.7" font-weight="bold" stroke-width="0" textLength="13.4" lengthAdjust="spacingAndGlyphs">高</text>
<text x="631.1" y="533.6" font-size="18.6" textLength="41.1" lengthAdjust="spacingAndGlyphs" stroke-width="0.35">72cm</text>
</g>
</svg>
</body></html>
